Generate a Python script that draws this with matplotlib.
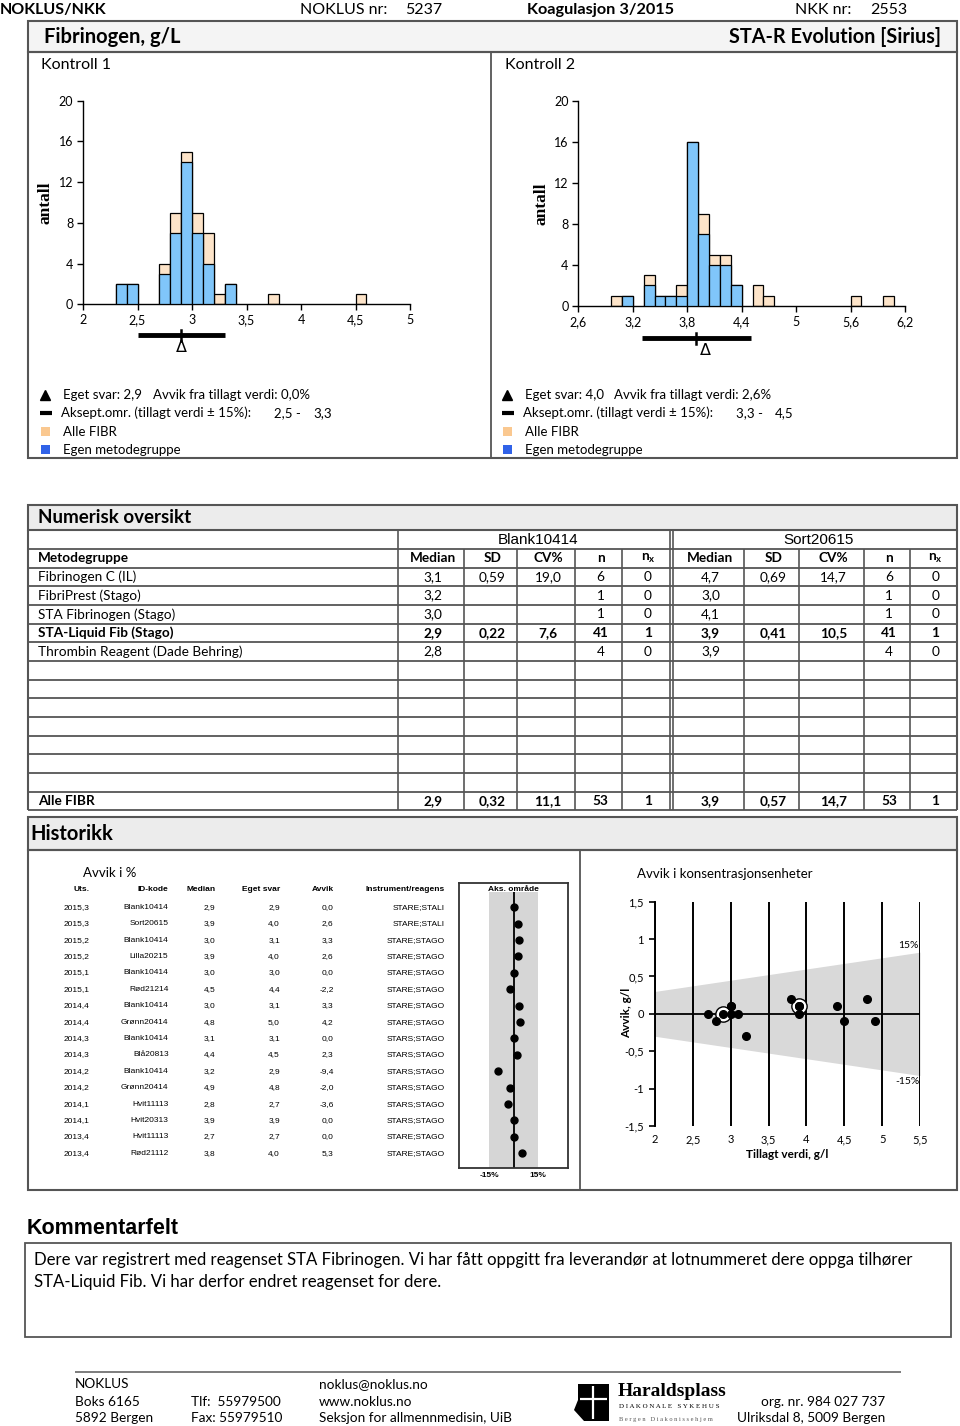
import matplotlib
matplotlib.use('Agg')
import matplotlib.pyplot as plt
from matplotlib.patches import Rectangle, Polygon
import matplotlib.transforms as mtransforms

# ---------------- data ----------------
# Kontroll 1 histogram (bin left edges, width 0.1)
k1_bins = [2.3, 2.4, 2.7, 2.8, 2.9, 3.0, 3.1, 3.2, 3.3, 3.7, 4.5]
k1_all = [2, 2, 4, 9, 15, 9, 7, 1, 2, 1, 1]
k1_egen = [2, 2, 3, 7, 14, 7, 4, 0, 2, 0, 0]
k1_width = 0.1
k1_xticks = [2, 2.5, 3, 3.5, 4, 4.5, 5]
k1_tillagt = 2.9
k1_eget = 2.9
k1_aksept = (2.5, 3.3)

# Kontroll 2 histogram (bin left edges, width 0.12)
k2_bins = [2.96, 3.08, 3.32, 3.44, 3.56, 3.68, 3.80, 3.92, 4.04, 4.16, 4.28, 4.52, 4.64, 5.60, 5.96]
k2_all = [1, 1, 3, 1, 1, 2, 16, 9, 5, 5, 2, 2, 1, 1, 1]
k2_egen = [0, 1, 2, 1, 1, 1, 16, 7, 4, 4, 2, 0, 0, 0, 0]
k2_width = 0.12
k2_xticks = [2.6, 3.2, 3.8, 4.4, 5.0, 5.6, 6.2]
k2_tillagt = 3.9
k2_eget = 4.0
k2_aksept = (3.3, 4.5)

hist_yticks = [0, 4, 8, 12, 16, 20]

# Numerisk oversikt
metoder = ["Fibrinogen C (IL)", "FibriPrest (Stago)", "STA Fibrinogen (Stago)",
           "STA-Liquid Fib (Stago)", "Thrombin Reagent (Dade Behring)"]
bold_row = 3
k1_median = ["3,1", "3,2", "3,0", "2,9", "2,8"]
k1_sd = ["0,59", "", "", "0,22", ""]
k1_cv = ["19,0", "", "", "7,6", ""]
k1_n = ["6", "1", "1", "41", "4"]
k1_nx = ["0", "0", "0", "1", "0"]
k2_median = ["4,7", "3,0", "4,1", "3,9", "3,9"]
k2_sd = ["0,69", "", "", "0,41", ""]
k2_cv = ["14,7", "", "", "10,5", ""]
k2_n = ["6", "1", "1", "41", "4"]
k2_nx = ["0", "0", "0", "1", "0"]
alle_k1 = ["2,9", "0,32", "11,1", "53", "1"]
alle_k2 = ["3,9", "0,57", "14,7", "53", "1"]

# Historikk
hist_uts = ["2015,3", "2015,3", "2015,2", "2015,2", "2015,1", "2015,1", "2014,4", "2014,4",
            "2014,3", "2014,3", "2014,2", "2014,2", "2014,1", "2014,1", "2013,4", "2013,4"]
hist_id = ["Blank10414", "Sort20615", "Blank10414", "Lilla20215", "Blank10414", "Rød21214",
           "Blank10414", "Grønn20414", "Blank10414", "Blå20813", "Blank10414", "Grønn20414",
           "Hvit11113", "Hvit20313", "Hvit11113", "Rød21112"]
hist_median = [2.9, 3.9, 3.0, 3.9, 3.0, 4.5, 3.0, 4.8, 3.1, 4.4, 3.2, 4.9, 2.8, 3.9, 2.7, 3.8]
hist_eget = [2.9, 4.0, 3.1, 4.0, 3.0, 4.4, 3.1, 5.0, 3.1, 4.5, 2.9, 4.8, 2.7, 3.9, 2.7, 4.0]
hist_avvik = [0.0, 2.6, 3.3, 2.6, 0.0, -2.2, 3.3, 4.2, 0.0, 2.3, -9.4, -2.0, -3.6, 0.0, 0.0, 5.3]
hist_instr = ["STARE;STALI", "STARE;STALI", "STARE;STAGO", "STARE;STAGO", "STARE;STAGO",
              "STARE;STAGO", "STARE;STAGO", "STARE;STAGO", "STARS;STAGO", "STARS;STAGO",
              "STARS;STAGO", "STARS;STAGO", "STARS;STAGO", "STARS;STAGO", "STARE;STAGO",
              "STARE;STAGO"]
current_round = [0, 1]

scatter_xticks = [2, 2.5, 3, 3.5, 4, 4.5, 5, 5.5]
scatter_yticks = [1.5, 1, 0.5, 0, -0.5, -1, -1.5]
limit_pct = 15

# ---------------- styles ----------------
W, H = 960, 1426
SANS = ['Lato', 'DejaVu Sans']
ARIAL = ['Liberation Sans', 'DejaVu Sans']
SERIF = ['Liberation Serif', 'DejaVu Serif']
plt.rcParams['font.family'] = SANS
BLUE = '#80C6FA'
TAN = '#FDE4C9'
LEG_TAN = '#FAC890'
LEG_BLUE = '#3062E8'
LINE = '#555555'
BAR_FILL = '#ECECEC'


def fmt(v):
    return f"{v:g}".replace('.', ',')


def f1(v):
    return f"{v:.1f}".replace('.', ',')


fig = plt.figure(figsize=(9.6, 14.26), dpi=100)
bg = fig.add_axes([0, 0, 1, 1])
bg.set_xlim(0, W)
bg.set_ylim(H, 0)
bg.axis('off')


def pax(l, t, r, b):
    return fig.add_axes([l / W, 1 - b / H, (r - l) / W, (b - t) / H])


def T(x, y, s, size=10, ha='left', va='center', weight='normal', family=SANS, **kw):
    bg.text(x, y, s, fontsize=size, ha=ha, va=va, fontweight=weight, family=family, **kw)


def L(x1, x2, y1, y2, lw=1.3, color=LINE, **kw):
    bg.plot([x1, x2], [y1, y2], color=color, lw=lw, solid_capstyle='butt', **kw)


def R(x, y, w, h, fc='none', ec=LINE, lw=1.5, **kw):
    bg.add_patch(Rectangle((x, y), w, h, fc=fc, ec=ec, lw=lw, **kw))


# ---------------- header ----------------
T(0, 10, 'NOKLUS/NKK', 11.5, weight='bold')
T(300, 10, 'NOKLUS nr:', 11.5)
T(405, 10, '5237', 11.5)
T(527, 10, 'Koagulasjon 3/2015', 11.7, weight='bold')
T(795, 10, 'NKK nr:', 11.5)
T(870, 10, '2553', 11.5)

R(28, 21, 929, 31, fc='#F4F4F4')
T(44, 37, 'Fibrinogen, g/L', 14.5, weight='bold')
T(941, 37, 'STA-R Evolution [Sirius]', 14.3, ha='right', weight='bold')

R(28, 52, 929, 406)
L(491, 491, 52, 458)
T(41, 65, 'Kontroll 1', 11.5)
T(505, 65, 'Kontroll 2', 11.5)


# ---------------- histograms ----------------
def histogram(box, bins, alle, egen, width, xticks, tillagt, eget, aksept, ylab_x, bar_y, tri_y):
    ax = pax(*box)
    ax.patch.set_alpha(0)
    ax.bar(bins, alle, width=width, align='edge', color=TAN, edgecolor='black', lw=0.9, zorder=2)
    ax.bar([b for b, e in zip(bins, egen) if e > 0], [e for e in egen if e > 0], width=width,
           align='edge', color=BLUE, edgecolor='black', lw=0.9, zorder=3)
    ax.set_xlim(xticks[0], xticks[-1])
    ax.set_ylim(0, 20)
    ax.set_xticks(xticks)
    ax.set_xticklabels([fmt(v) for v in xticks])
    ax.set_yticks(hist_yticks)
    ax.set_yticklabels([str(v) for v in hist_yticks])
    for s in ['top', 'right']:
        ax.spines[s].set_visible(False)
    for s in ['left', 'bottom']:
        ax.spines[s].set_linewidth(1.0)
    ax.tick_params(length=4, width=1.0, labelsize=9, pad=3)
    tr = ax.get_xaxis_transform()
    ax.plot(list(aksept), [bar_y, bar_y], transform=tr, color='k', lw=3.5,
            clip_on=False, solid_capstyle='butt')
    ax.plot([tillagt, tillagt], [bar_y + 0.025, bar_y - 0.03], transform=tr, color='k',
            lw=1.8, clip_on=False)
    ax.text(eget, tri_y, 'Δ', transform=tr, ha='center', va='center', fontsize=11.5,
            family=['DejaVu Sans'])
    T(ylab_x, (box[1] + box[3]) / 2, 'antall', 12.5, rotation=90, ha='center',
      weight='bold', family=SERIF)
    return ax


histogram((83, 100.7, 410, 304.3), k1_bins, k1_all, k1_egen, k1_width, k1_xticks,
          k1_tillagt, k1_eget, k1_aksept, 45, -0.151, -0.21)
histogram((578.3, 100.7, 905, 306), k2_bins, k2_all, k2_egen, k2_width, k2_xticks,
          k2_tillagt, k2_eget, k2_aksept, 541, -0.157, -0.215)


# legends
def legend(x0, eget, avvik, aksept, avvik_x, val_x):
    ys = [395, 413, 431.5, 449.5]
    bg.plot(x0 + 5, ys[0], marker='^', ms=7, color='k')
    L(x0, x0 + 12, ys[1], ys[1], lw=3, color='k')
    R(x0 + 1, ys[2] - 4.5, 9, 9, fc=LEG_TAN, ec='none', lw=0)
    R(x0 + 1, ys[3] - 4.5, 9, 9, fc=LEG_BLUE, ec='none', lw=0)
    T(x0 + 23, ys[0], f'Eget svar: {f1(eget)}', 9.5)
    T(avvik_x, ys[0], f'Avvik fra tillagt verdi: {f1(avvik)}%', 9.5)
    T(x0 + 21, ys[1], 'Aksept.omr. (tillagt verdi ± 15%):', 9.5)
    T(val_x, ys[1], f'{f1(aksept[0])} -', 9.5)
    T(val_x + 39, ys[1], f1(aksept[1]), 9.5)
    T(x0 + 23, ys[2], 'Alle FIBR', 9.5)
    T(x0 + 23, ys[3], 'Egen metodegruppe', 9.5)


legend(40, k1_eget, (k1_eget - k1_tillagt) / k1_tillagt * 100, k1_aksept, 153, 274)
legend(502, k2_eget, (k2_eget - k2_tillagt) / k2_tillagt * 100, k2_aksept, 614, 736)

# ---------------- Numerisk oversikt ----------------
R(28, 504.5, 929, 25.8, fc=BAR_FILL)
T(38, 517.5, 'Numerisk oversikt', 13.5, weight='bold')

row_h = 18.67
y_edges = [530.3 + i * row_h for i in range(16)]
x_edges = [28, 398, 464, 517, 575, 622, 670, 673, 744, 799, 864, 910, 957]
for y in y_edges[1:]:
    L(28, 957, y, y, lw=1.3)
L(28, 28, y_edges[0], y_edges[-1], lw=1.5)
L(957, 957, y_edges[0], y_edges[-1], lw=1.5)
for x in [398, 670, 673]:
    L(x, x, y_edges[0], y_edges[-1], lw=1.2)
for x in x_edges[2:6] + x_edges[8:12]:
    L(x, x, y_edges[1], y_edges[-1], lw=1.2)

yc = [(y_edges[i] + y_edges[i + 1]) / 2 for i in range(15)]
T((398 + 670) / 2 + 4, yc[0], 'Blank10414', 11, ha='center', family=ARIAL)
T((673 + 957) / 2 + 4, yc[0], 'Sort20615', 11, ha='center', family=ARIAL)

cols1 = [(x_edges[i] + x_edges[i + 1]) / 2 + 2 for i in range(1, 6)]
cols2 = [(x_edges[i] + x_edges[i + 1]) / 2 + 2 for i in range(7, 12)]
heads = ['Median', 'SD', 'CV%', 'n', r'n$_\mathregular{x}$']
T(38, yc[1], 'Metodegruppe', 9.8, weight='bold')
for cx, h in zip(cols1 + cols2, heads + heads):
    T(cx, yc[1], h, 9.8, ha='center', weight='bold')

for i, name in enumerate(metoder):
    w = 'bold' if i == bold_row else 'normal'
    y = yc[2 + i]
    T(38, y, name, 9.8, weight=w)
    v1 = [k1_median[i], k1_sd[i], k1_cv[i], k1_n[i], k1_nx[i]]
    v2 = [k2_median[i], k2_sd[i], k2_cv[i], k2_n[i], k2_nx[i]]
    for cx, v in zip(cols1 + cols2, v1 + v2):
        T(cx, y, v, 9.8, ha='center', weight=w)

T(38, yc[14], 'Alle FIBR', 9.8, weight='bold')
for cx, v in zip(cols1 + cols2, alle_k1 + alle_k2):
    T(cx, yc[14], v, 9.8, ha='center', weight='bold')

# ---------------- Historikk ----------------
R(28, 816.5, 929, 33.5, fc=BAR_FILL)
T(30, 834, 'Historikk', 14.5, weight='bold')
R(28, 850, 929, 340)
L(580, 580, 850, 1190)

T(83, 873, 'Avvik i %', 9.5)

aks = pax(458.6, 882.7, 568.4, 1168)
aks.set_xlim(-34.3, 34.3)
n_rows = len(hist_uts)
aks.set_ylim(15.9, -1.5)
aks.fill_betweenx([-0.93, 15.9], -limit_pct, limit_pct, color='#D6D6D6', lw=0)
aks.vlines(0, -0.93, 15.9, color='k', lw=1.3)
aks.plot(hist_avvik, list(range(n_rows)), 'o', color='k', ms=5)
aks.set_xticks([-limit_pct, limit_pct])
aks.set_xticklabels([f'-{limit_pct}%', f'{limit_pct}%'], fontsize=6, fontweight='bold',
                    family=ARIAL)
aks.tick_params(axis='x', length=0, pad=3)
aks.set_yticks([])
for s in aks.spines.values():
    s.set_linewidth(1.3)
    s.set_color('#333333')
aks.text(0, -1.1, 'Aks. område', ha='center', va='center', fontsize=6, fontweight='bold',
         family=ARIAL)

trow = mtransforms.blended_transform_factory(bg.transData, aks.transData)
hx = [89.6, 168.5, 215.2, 280, 333.7, 445]
for x, h in zip(hx, ['Uts.', 'ID-kode', 'Median', 'Eget svar', 'Avvik', 'Instrument/reagens']):
    bg.text(x, -1.1, h, transform=trow, ha='right', va='center', fontsize=6,
            fontweight='bold', family=ARIAL)
for i in range(n_rows):
    vals = [hist_uts[i], hist_id[i], f1(hist_median[i]), f1(hist_eget[i]),
            f1(hist_avvik[i]), hist_instr[i]]
    for x, v in zip(hx, vals):
        bg.text(x, i, v, transform=trow, ha='right', va='center', fontsize=6, family=ARIAL)

# scatter
T(637, 874, 'Avvik i konsentrasjonsenheter', 9.5)
sc = pax(655, 901.7, 920, 1126)
sc.patch.set_alpha(0)
xs = [scatter_xticks[0], scatter_xticks[-1]]
sc.fill_between(xs, [-limit_pct / 100 * v for v in xs], [limit_pct / 100 * v for v in xs],
                color='#D9D9D9', lw=0, zorder=0)
sc.set_xlim(xs)
sc.set_ylim(-1.5, 1.5)
sc.set_xticks(scatter_xticks)
sc.set_xticklabels([fmt(v) for v in scatter_xticks])
sc.set_yticks(scatter_yticks)
sc.set_yticklabels([fmt(v) for v in scatter_yticks])
sc.grid(axis='x', color='k', lw=1.4, zorder=1)
sc.set_axisbelow(False)
sc.axhline(0, color='k', lw=1.3, zorder=2)
for s in ['top', 'right', 'bottom']:
    sc.spines[s].set_visible(False)
sc.spines['left'].set_linewidth(1.4)
sc.tick_params(axis='x', length=0, labelsize=8, pad=6)
sc.tick_params(axis='y', length=4, width=1.2, labelsize=8, pad=4)
dev = [round(e - m, 2) for e, m in zip(hist_eget, hist_median)]
for i in current_round:
    sc.plot(hist_median[i], dev[i], 'o', ms=11, mfc='white', mec='k', mew=1.0, zorder=4)
sc.plot(hist_median, dev, 'o', color='k', ms=5.5, zorder=5)
sc.text(5.34, 0.92, f'{limit_pct}%', ha='center', va='center', fontsize=7.5)
sc.text(5.33, -0.91, f'-{limit_pct}%', ha='center', va='center', fontsize=7.5)
sc.set_xlabel('Tillagt verdi, g/l', fontsize=8.5, fontweight='bold', labelpad=3)
T(626.5, 1013, 'Avvik, g/l', 8.5, rotation=90, ha='center', weight='bold')

# ---------------- Kommentarfelt ----------------
T(27, 1229, 'Kommentarfelt', 15.5, weight='bold', family=ARIAL)
R(24.8, 1242.7, 925.7, 94, lw=1.3)
T(34, 1260.5, 'Dere var registrert med reagenset STA Fibrinogen. Vi har fått oppgitt fra '
              'leverandør at lotnummeret dere oppga tilhører', 12.1)
T(34, 1281.5, 'STA-Liquid Fib. Vi har derfor endret reagenset for dere.', 12.1)

# ---------------- footer ----------------
L(75, 901, 1372, 1372, lw=1.2, color='#666666')
fy = [1384, 1401.5, 1418.5]
T(75, fy[0], 'NOKLUS', 9.8)
T(75, fy[1], 'Boks 6165', 9.8)
T(75, fy[2], '5892 Bergen', 9.8)
T(191, fy[1], 'Tlf:  55979500', 9.8)
T(191, fy[2], 'Fax: 55979510', 9.8)
T(319, fy[0], 'noklus@noklus.no', 9.8)
T(319, fy[1], 'www.noklus.no', 9.8)
T(319, fy[2], 'Seksjon for allmennmedisin, UiB', 9.8)
T(885, fy[1], 'org. nr. 984 027 737', 9.8, ha='right')
T(885, fy[2], 'Ulriksdal 8, 5009 Bergen', 9.8, ha='right')
# logo
bg.add_patch(Polygon([[578, 1384], [609, 1384], [609, 1421], [584, 1421], [574, 1410], [578, 1400]],
                     closed=True, fc='black', ec='none'))
L(593, 593, 1386, 1419, lw=1.6, color='white')
L(580, 607, 1399, 1399, lw=1.6, color='white')
T(618, 1392, 'Haraldsplass', 14, weight='bold', family=SERIF)
T(619, 1407, 'D I A K O N A L E   S Y K E H U S', 5, family=SERIF)
T(619, 1419, 'B e r g e n   D i a k o n i s s e h j e m', 4.6, family=SERIF, color='#555555')

fig.savefig('out.png', dpi=100)
